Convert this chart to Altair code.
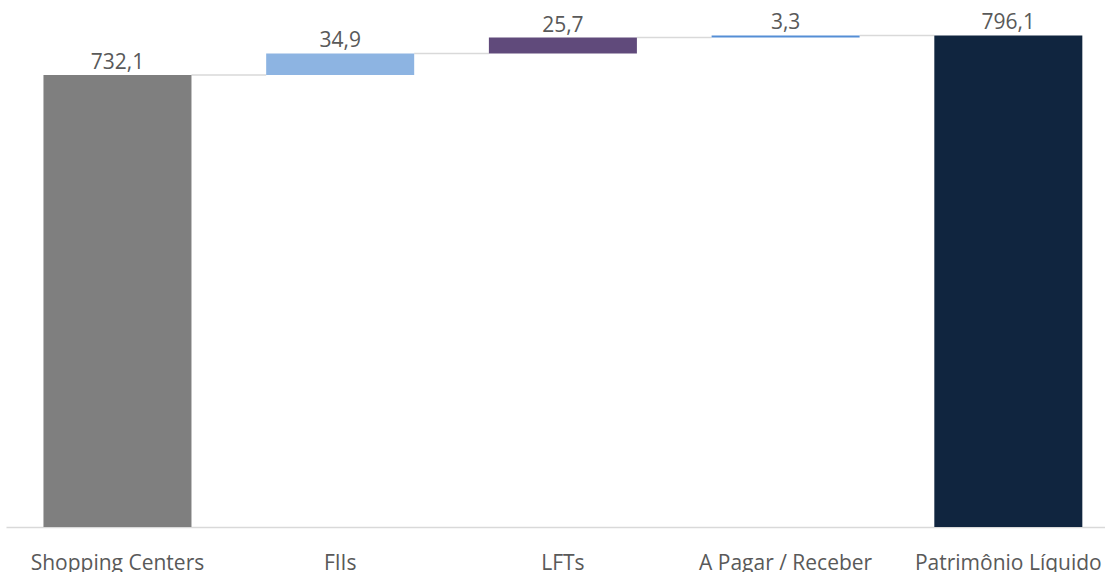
import altair as alt
import pandas as pd

categories = ["Shopping Centers", "FIIs", "LFTs", "A Pagar / Receber", "Patrimônio Líquido"]
values = [732.1, 34.9, 25.7, 3.3, 796.1]
labels = ["732,1", "34,9", "25,7", "3,3", "796,1"]
kinds = ["total", "delta", "delta", "delta", "total"]
colors = ["#7f7f7f", "#8db4e2", "#604a7b", "#558ed5", "#10253f"]

rows = []
running = 0.0
for c, v, l, k, col in zip(categories, values, labels, kinds, colors):
    if k == "total":
        start, end = 0.0, v
    else:
        start, end = running, running + v
    running = end
    rows.append(dict(cat=c, start=start, end=end, label=l, color=col))
df = pd.DataFrame(rows)

conn = []
for i in range(len(rows) - 1):
    conn.append(dict(cat=rows[i]["cat"], nxt=rows[i + 1]["cat"], y=rows[i]["end"]))
cdf = pd.DataFrame(conn)

xscale = alt.Scale(domain=categories, paddingInner=0.3354, paddingOuter=0.135, align=0.623)
yscale = alt.Scale(domain=[0, 800], nice=False, zero=True)

xaxis = alt.Axis(
    title=None, labelAngle=0, ticks=False, tickSize=0, domain=True,
    domainColor="#d9d9d9", domainWidth=1.5, labelFont="Open Sans",
    labelFontSize=21, labelColor="#595959", labelPadding=42,
    labelBaseline="alphabetic", grid=False, labelLimit=0, labelOverlap=False,
)

rules = alt.Chart(cdf).mark_rule(color="#d9d9d9", strokeWidth=1.5).encode(
    x=alt.X("cat:N", bandPosition=1, scale=xscale, axis=xaxis, sort=categories),
    x2=alt.X2("nxt:N", bandPosition=0),
    y=alt.Y("y:Q", scale=yscale, axis=None),
)

bars = alt.Chart(df).mark_bar().encode(
    x=alt.X("cat:N", scale=xscale, axis=xaxis, sort=categories),
    y=alt.Y("start:Q", scale=yscale, axis=None),
    y2="end:Q",
    color=alt.Color("color:N", scale=None),
)

text = alt.Chart(df).mark_text(
    dy=-6, baseline="alphabetic", fontSize=21, font="Open Sans", color="#595959"
).encode(
    x=alt.X("cat:N", scale=xscale, axis=xaxis, sort=categories),
    y=alt.Y("end:Q", scale=yscale, axis=None),
    text="label:N",
)

chart = alt.layer(rules, bars, text).properties(
    width=1099, height=494,
    padding={"left": 6, "top": 33, "right": 0, "bottom": 45},
    autosize="none",
).configure(background="white").configure_view(stroke=None, strokeWidth=0)

chart.save("out.html", embed_options={"renderer": "svg", "actions": False})
